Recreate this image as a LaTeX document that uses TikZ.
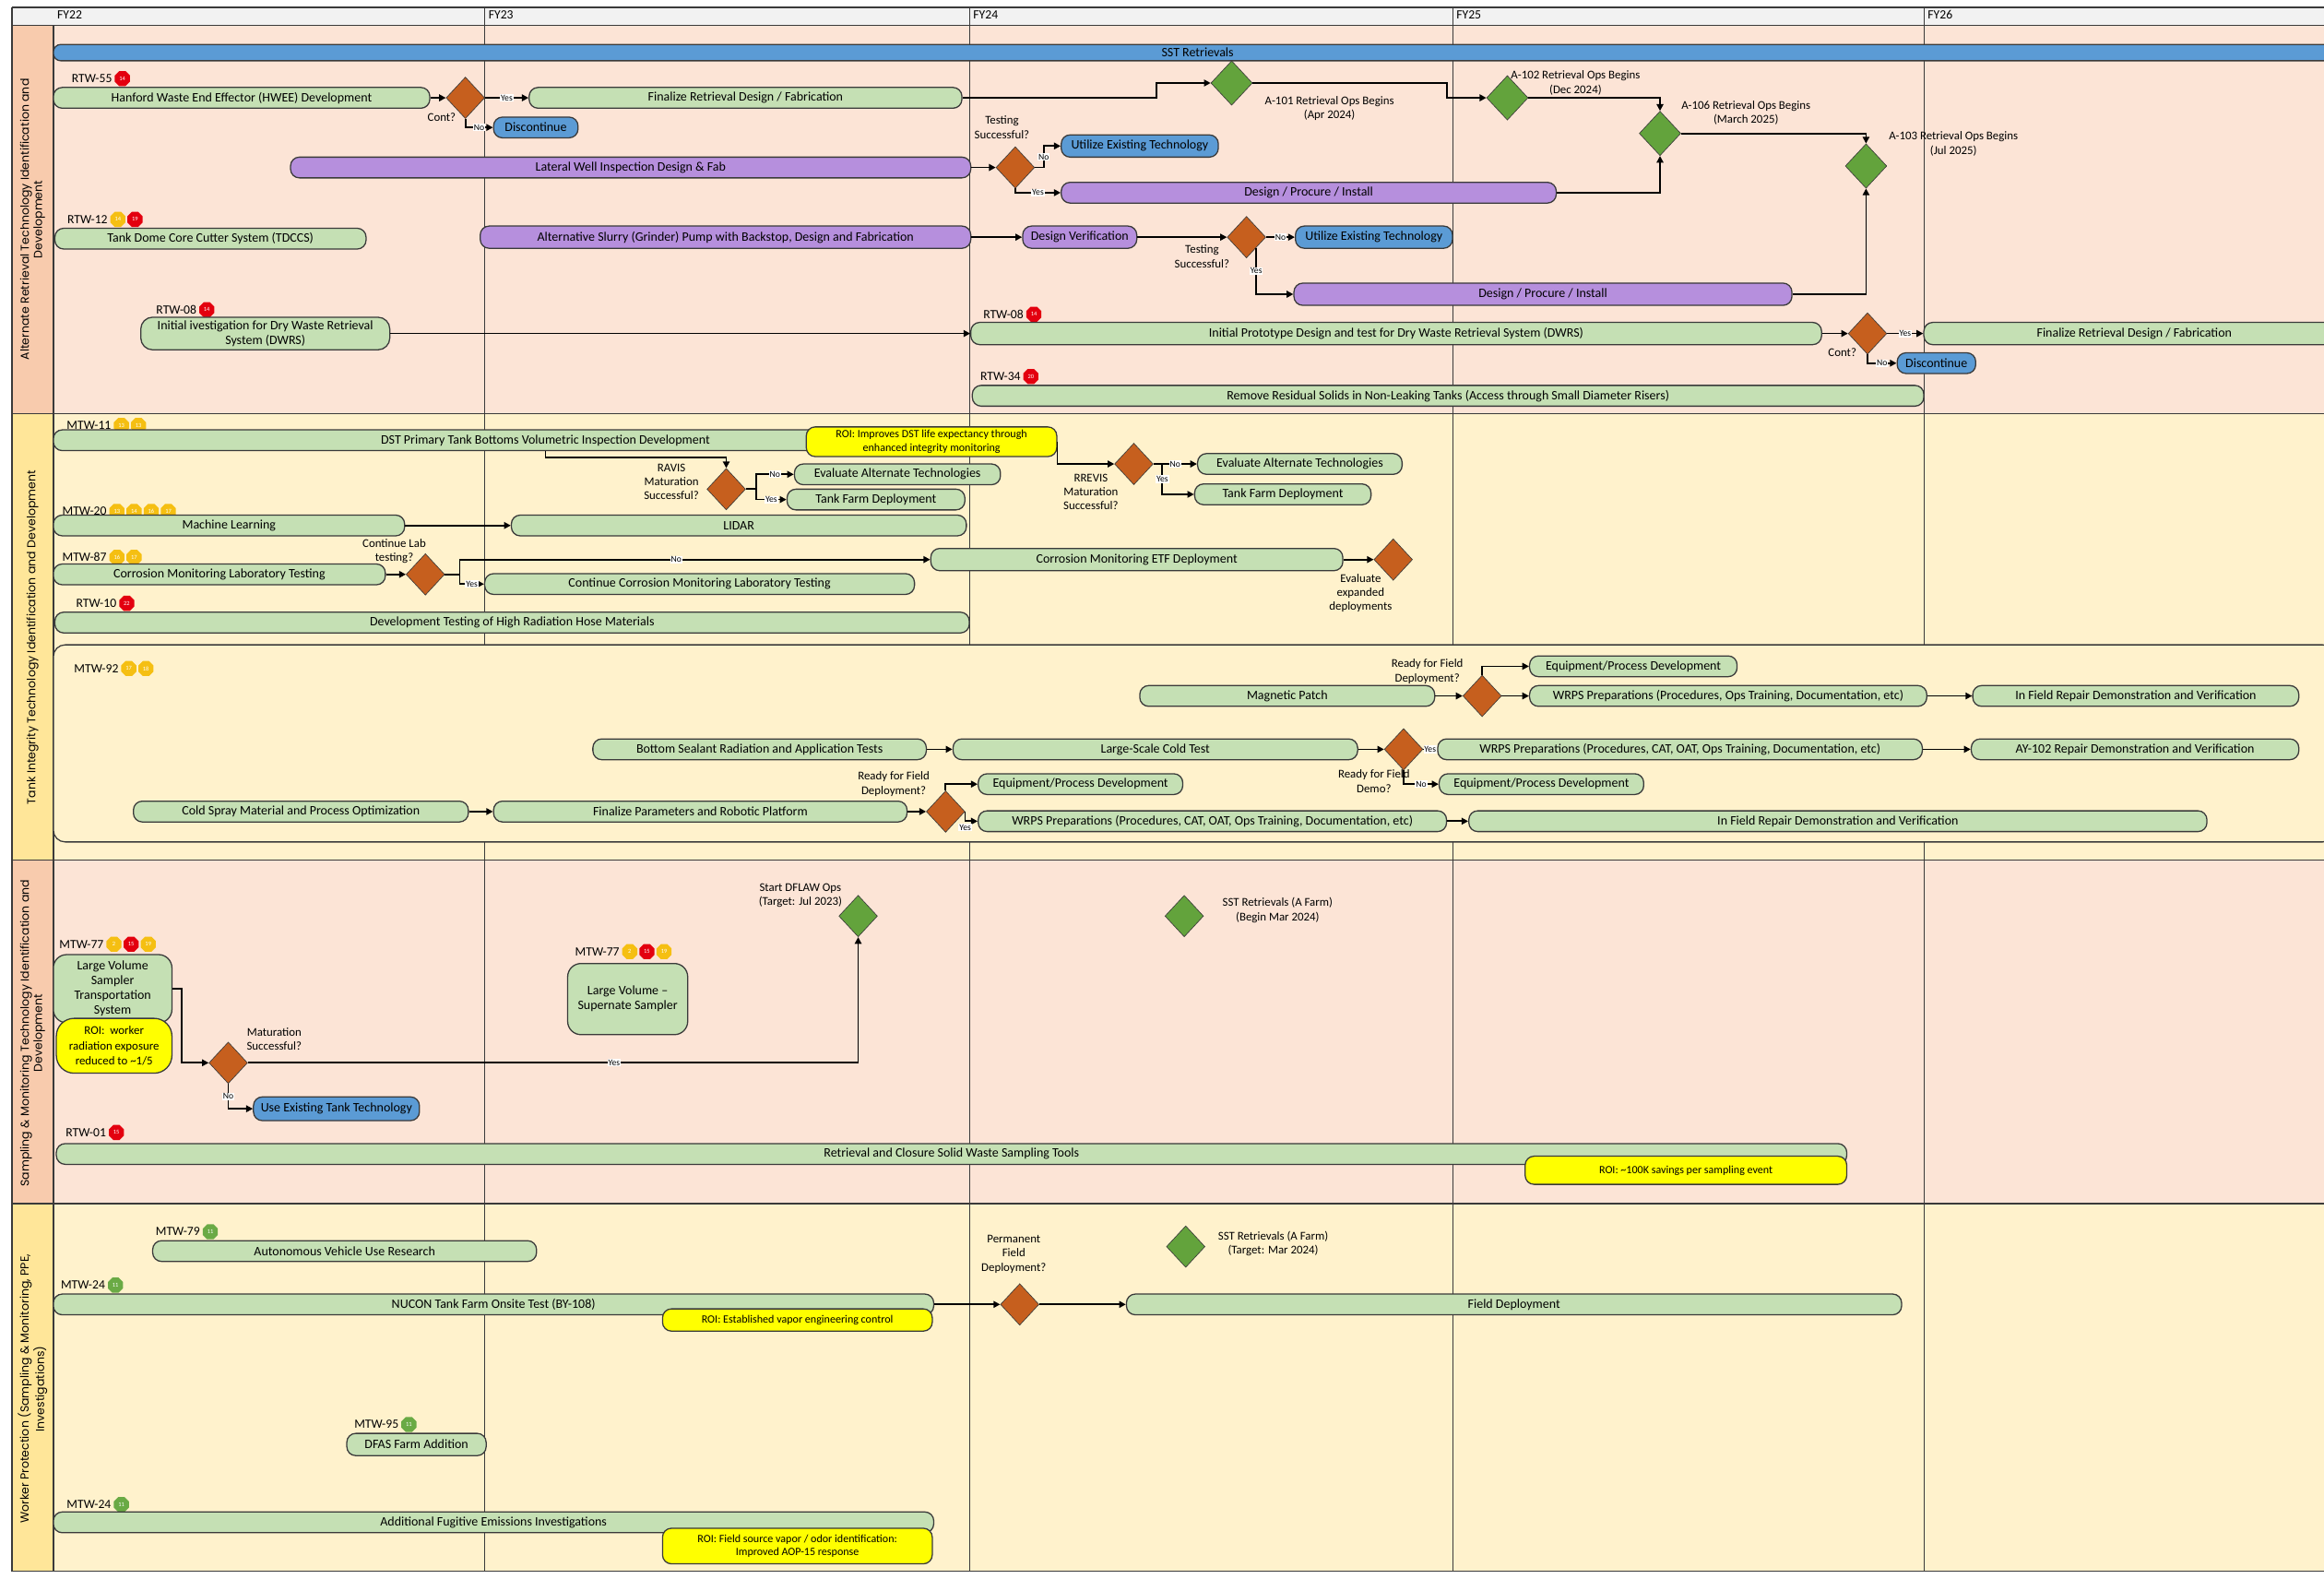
\documentclass[tikz,border=0pt]{standalone}
\usepackage{fontspec}
\setmainfont{Carlito}
\newfontfamily\lanefont{Poppins}
\usetikzlibrary{positioning,shapes.geometric,arrows.meta,calc}

\definecolor{lanepeach}{HTML}{FCE4D6}
\definecolor{laneyel}{HTML}{FFF2CC}
\definecolor{hdpeach}{HTML}{F8CBAD}
\definecolor{hdyel}{HTML}{FFE699}
\definecolor{hdgray}{HTML}{F2F2F2}
\definecolor{boxgreen}{HTML}{C5E0B4}
\definecolor{boxpurple}{HTML}{B68FDD}
\definecolor{boxblue}{HTML}{5B9BD5}
\definecolor{roiyel}{HTML}{FFFF00}
\definecolor{decorange}{HTML}{C65F1E}
\definecolor{decgreen}{HTML}{63A33C}
\definecolor{bred}{HTML}{E3000F}
\definecolor{byel}{HTML}{F5BF12}
\definecolor{bgreen}{HTML}{6AAA45}
\definecolor{lineclr}{HTML}{3A3A3A}

\tikzset{
  task/.style={draw=lineclr, line width=0.8pt, rounded corners=6pt, minimum height=14pt, inner sep=1pt, font=\fontsize{8.7}{10}\selectfont, align=center},
  gbox/.style={task, fill=boxgreen},
  pbox/.style={task, fill=boxpurple},
  bbox/.style={task, fill=boxblue},
  ybox/.style={task, fill=roiyel, font=\fontsize{7.5}{9}\selectfont},
  odec/.style={diamond, draw=lineclr, fill=decorange, minimum width=26pt, minimum height=28pt, inner sep=0pt},
  gdec/.style={diamond, draw=lineclr, fill=decgreen, minimum width=28pt, minimum height=30pt, inner sep=0pt},
  tag/.style={font=\fontsize{8.5}{9}\selectfont, inner sep=0.5pt},
  badge/.style={regular polygon, regular polygon sides=8, minimum size=11pt, inner sep=0pt, text=white, font=\fontsize{4}{4}\selectfont},
  rb/.style={badge, fill=bred}, yb/.style={badge, fill=byel}, gb/.style={badge, fill=bgreen},
  note/.style={font=\fontsize{8}{9.5}\selectfont, align=center, inner sep=0pt},
  conn/.style={draw=black, line width=1.1pt, -{Triangle[length=4.5pt,width=4.5pt]}},
  yn/.style={font=\fontsize{6}{6}\selectfont, fill=white, inner sep=0.6pt},
  lanelbl/.style={rotate=90, font=\lanefont\fontsize{7.8}{9}\selectfont, align=center},
  laneln/.style={draw=lineclr, line width=0.8pt},
  gridln/.style={draw=lineclr, line width=0.6pt},
}

\begin{document}
\begin{tikzpicture}[x=1pt,y=-1pt]
\useasboundingbox (0,0) rectangle (1568,1065);
\clip (0,0) rectangle (1568,1065);
\fill[white] (0,0) rectangle (1568,1065);

% swim lanes
\fill[hdgray] (8,5) rectangle (1568,17);
\fill[lanepeach] (36,17) rectangle (1568,279);
\fill[laneyel] (36,279) rectangle (1568,580);
\fill[lanepeach] (36,580) rectangle (1568,812);
\fill[laneyel] (36,812) rectangle (1568,1060);
\fill[hdpeach] (8,17) rectangle (36,279);
\fill[hdyel] (8,279) rectangle (36,580);
\fill[hdpeach] (8,580) rectangle (36,812);
\fill[hdyel] (8,812) rectangle (36,1060);
\foreach \x in {327,654,980,1298} \draw[gridln] (\x,5) -- (\x,1060);
\foreach \y in {5,17,279,580,812,1060} \draw[laneln] (8,\y) -- (1568,\y);
\draw[laneln] (8,5) -- (8,1060);
\draw[laneln] (36,17) -- (36,1060);
\draw[laneln, fill=laneyel, rounded corners=8pt] (36,435) rectangle (1575,568);

\node[tag, anchor=west] (fy22) at (38,10) {FY22};
\node[tag, anchor=west] (fy23) at (329,10) {FY23};
\node[tag, anchor=west] (fy24) at (656,10) {FY24};
\node[tag, anchor=west] (fy25) at (982,10) {FY25};
\node[tag, anchor=west] (fy26) at (1300,10) {FY26};

\node[lanelbl] (lane1) at (22,148) {Alternate Retrieval Technology Identification and\\Development};
\node[lanelbl] (lane2) at (22,430) {Tank Integrity Technology Identification and Development};
\node[lanelbl] (lane3) at (22,697) {Sampling \& Monitoring Technology Identification and\\Development};
\node[lanelbl] (lane4) at (22,937) {Worker Protection (Sampling \& Monitoring, PPE,\\Investigations)};

% ---- alternate retrieval
\node[bbox, minimum height=11pt, rounded corners=5pt, minimum width=1544pt] (sst) at (808,35.5) {SST Retrievals};
\node[tag] (trtw55) at (62,53) {RTW-55};
\node[rb, right=1pt of trtw55] (b55) {14};
\node[gbox, minimum width=254pt] (hwee) at (163,66) {Hanford Waste End Effector (HWEE) Development};
\node[odec] (c1) at (314,66) {};
\node[note] (cont1) at (298,79) {Cont?};
\node[gbox, minimum width=292pt] (fin1) at (503,66) {Finalize Retrieval Design / Fabrication};
\node[bbox, minimum width=57pt] (disc1) at (361.5,86) {Discontinue};
\node[gdec] (g101) at (831,56) {};
\node[gdec] (g102) at (1017,66) {};
\node[gdec] (g106) at (1120,90) {};
\node[gdec] (g103) at (1259,112) {};
\node[note] (l101) at (897,73) {A-101 Retrieval Ops Begins\\(Apr 2024)};
\node[note] (l102) at (1063,56) {A-102 Retrieval Ops Begins\\(Dec 2024)};
\node[note] (l106) at (1178,76) {A-106 Retrieval Ops Begins\\(March 2025)};
\node[note] (l103) at (1318,97) {A-103 Retrieval Ops Begins\\(Jul 2025)};
\node[pbox, minimum width=459pt] (lwi) at (425.5,113) {Lateral Well Inspection Design \& Fab};
\node[odec] (t1) at (685,113) {};
\node[note] (lt1) at (676,86) {Testing\\Successful?};
\node[bbox, minimum width=106pt, minimum height=15pt] (ut1) at (769,98.5) {Utilize Existing Technology};
\node[pbox, minimum width=334pt] (dpi1) at (883,130) {Design / Procure / Install};
\node[tag] (trtw12) at (59,148) {RTW-12};
\node[yb, right=1pt of trtw12] (b12a) {14};
\node[rb, right=1pt of b12a] (b12b) {19};
\node[gbox, minimum width=210pt] (tdccs) at (142,161) {Tank Dome Core Cutter System (TDCCS)};
\node[pbox, minimum width=331pt, minimum height=15pt] (slurry) at (489.5,160) {Alternative Slurry (Grinder) Pump with Backstop, Design and Fabrication};
\node[pbox, minimum width=77pt, minimum height=15pt] (dver) at (728.5,160) {Design Verification};
\node[odec] (t2) at (841,160) {};
\node[note] (lt2) at (811,173) {Testing\\Successful?};
\node[bbox, minimum width=106pt, minimum height=15pt] (ut2) at (927,160) {Utilize Existing Technology};
\node[pbox, minimum width=336pt, minimum height=15pt] (dpi2) at (1041,198.5) {Design / Procure / Install};
\node[tag] (trtw08a) at (119,209) {RTW-08};
\node[rb, right=1pt of trtw08a] (b08a) {14};
\node[gbox, minimum width=168pt, minimum height=22pt, rounded corners=8pt] (dwrs1) at (179,225) {Initial ivestigation for Dry Waste Retrieval\\System (DWRS)};
\node[tag] (trtw08b) at (677,212) {RTW-08};
\node[rb, right=1pt of trtw08b] (b08b) {14};
\node[gbox, minimum width=574pt, minimum height=15pt] (dwrs2) at (942,225) {Initial Prototype Design and test for Dry Waste Retrieval System (DWRS)};
\node[odec] (c2) at (1260,225) {};
\node[note] (cont2) at (1243,238) {Cont?};
\node[gbox, minimum width=284pt, minimum height=15pt] (fin2) at (1440,225) {Finalize Retrieval Design / Fabrication};
\node[bbox, minimum width=53pt] (disc2) at (1306.5,245) {Discontinue};
\node[tag] (trtw34) at (675,254) {RTW-34};
\node[rb, right=1pt of trtw34] (b34) {20};
\node[gbox, minimum width=642pt] (rrs) at (977,267) {Remove Residual Solids in Non-Leaking Tanks (Access through Small Diameter Risers)};

\draw[conn] (hwee) -- (c1);
\draw[conn] (c1) -- node[yn]{Yes} (fin1);
\draw[conn] (c1.south) |- node[yn,pos=0.75]{No} (disc1.west);
\draw[conn] (fin1.east) -- ++(131,0) |- (g101.west);
\draw[conn] (g101.east) -- ++(131,0) |- (g102.west);
\draw[conn] (g102.east) -| (g106.north);
\draw[conn] (g106.east) -| (g103.north);
\draw[conn] (lwi) -- (t1);
\draw[conn] (t1.east) -- ++(6,0) |- node[yn,pos=0.25]{No} (ut1.west);
\draw[conn] (t1.south) |- node[yn,pos=0.75]{Yes} (dpi1.west);
\draw[conn] (dpi1.east) -| (g106.south);
\draw[conn] (slurry) -- (dver);
\draw[conn] (dver) -- (t2);
\draw[conn] (t2) -- node[yn]{No} (ut2);
\draw[conn] (t2.south east) |- node[yn,pos=0.25]{Yes} (dpi2.west);
\draw[conn] (dpi2.east) -| (g103.south);
\draw[conn] (dwrs1) -- (dwrs2);
\draw[conn] (dwrs2) -- (c2);
\draw[conn] (c2) -- node[yn]{Yes} (fin2);
\draw[conn] (c2.south) |- node[yn,pos=0.75]{No} (disc2.west);

% ---- tank integrity
\node[tag] (tmtw11) at (60,287) {MTW-11};
\node[yb, right=1pt of tmtw11] (b11a) {13};
\node[yb, right=1pt of b11a] (b11b) {13};
\node[gbox, minimum width=664pt] (dst) at (368,297) {DST Primary Tank Bottoms Volumetric Inspection Development};
\node[ybox, minimum width=169pt, minimum height=20pt] (roi1) at (628.5,298) {ROI: Improves DST life expectancy through\\enhanced integrity monitoring};
\node[odec] (ravis) at (490,330) {};
\node[note] (lravis) at (453,325) {RAVIS\\Maturation\\Successful?};
\node[gbox, minimum width=139pt] (eat1) at (605.5,320) {Evaluate Alternate Technologies};
\node[gbox, minimum width=120pt] (tfd1) at (591,337) {Tank Farm Deployment};
\node[odec] (rrevis) at (765,313) {};
\node[note] (lrrevis) at (736,332) {RREVIS\\Maturation\\Successful?};
\node[gbox, minimum width=138pt] (eat2) at (877,313) {Evaluate Alternate Technologies};
\node[gbox, minimum width=119pt] (tfd2) at (865.5,333.5) {Tank Farm Deployment};
\node[tag] (tmtw20) at (57,345) {MTW-20};
\node[yb, right=1pt of tmtw20] (b20a) {13};
\node[yb, right=1pt of b20a] (b20b) {14};
\node[yb, right=1pt of b20b] (b20c) {16};
\node[yb, right=1pt of b20c] (b20d) {17};
\node[gbox, minimum width=237pt] (ml) at (154.5,354.5) {Machine Learning};
\node[gbox, minimum width=307pt] (lidar) at (498.5,354.5) {LIDAR};
\node[tag] (tmtw87) at (57,376) {MTW-87};
\node[yb, right=1pt of tmtw87] (b87a) {16};
\node[yb, right=1pt of b87a] (b87b) {17};
\node[gbox, minimum width=224pt] (cmlt) at (148,387.5) {Corrosion Monitoring Laboratory Testing};
\node[odec] (cl) at (287,387.5) {};
\node[note] (lcl) at (266,372) {Continue Lab\\testing?};
\node[gbox, minimum width=278pt, minimum height=15pt] (etf) at (767,377.5) {Corrosion Monitoring ETF Deployment};
\node[gbox, minimum width=290pt] (ccml) at (472,394) {Continue Corrosion Monitoring Laboratory Testing};
\node[odec] (eval) at (940,377.5) {};
\node[note] (leval) at (918,400) {Evaluate\\expanded\\deployments};
\node[tag] (trtw10) at (65,407) {RTW-10};
\node[rb, right=1pt of trtw10] (b10) {22};
\node[gbox, minimum width=617pt] (hose) at (345.5,420) {Development Testing of High Radiation Hose Materials};

\draw[conn] (dst.south) -- ++(0,4) -| (ravis.north);
\draw[conn] (ravis.east) -- ++(7,0) |- node[yn,pos=0.75]{No} (eat1.west);
\draw[conn] (ravis.east) -- ++(7,0) |- node[yn,pos=0.75]{Yes} (tfd1.west);
\draw[conn] (roi1.east) |- (rrevis.west);
\draw[conn] (rrevis) -- node[yn]{No} (eat2);
\draw[conn] (rrevis.east) -- ++(6,0) |- node[yn,pos=0.25]{Yes} (tfd2.west);
\draw[conn] (ml) -- (lidar);
\draw[conn] (cmlt) -- (cl);
\draw[conn] (cl.east) -- ++(10,0) |- node[yn,pos=0.73]{No} (etf.west);
\draw[conn] (cl.east) -- ++(10,0) |- node[yn,pos=0.75]{Yes} (ccml.west);
\draw[conn] (etf) -- (eval);

% repair technologies
\node[tag] (tmtw92) at (65,451) {MTW-92};
\node[yb, right=1pt of tmtw92] (b92a) {17};
\node[yb, right=1pt of b92a] (b92b) {18};
\node[gbox, minimum width=199pt] (mp) at (868.5,469.5) {Magnetic Patch};
\node[odec] (rf1) at (1000,469.5) {};
\node[note] (lrf1) at (963,453) {Ready for Field\\Deployment?};
\node[gbox, minimum width=140pt] (epd1) at (1102,449.5) {Equipment/Process Development};
\node[gbox, minimum width=268pt] (wrps1) at (1166,469.5) {WRPS Preparations (Procedures, Ops Training, Documentation, etc)};
\node[gbox, minimum width=220pt] (ifr1) at (1441,469.5) {In Field Repair Demonstration and Verification};
\node[gbox, minimum width=225pt] (bsr) at (512.5,505.5) {Bottom Sealant Radiation and Application Tests};
\node[gbox, minimum width=273pt] (lsct) at (779.5,505.5) {Large-Scale Cold Test};
\node[odec] (rf2) at (947,505.5) {};
\node[note] (lrf2) at (927,527) {Ready for Field\\Demo?};
\node[gbox, minimum width=327pt] (wrps2) at (1133.5,505.5) {WRPS Preparations (Procedures, CAT, OAT, Ops Training, Documentation, etc)};
\node[gbox, minimum width=138pt] (epd2) at (1040,529) {Equipment/Process Development};
\node[gbox, minimum width=221pt] (ay) at (1440.5,505.5) {AY-102 Repair Demonstration and Verification};
\node[gbox, minimum width=226pt] (cs) at (203,547.5) {Cold Spray Material and Process Optimization};
\node[gbox, minimum width=279pt] (fp) at (472.5,547.5) {Finalize Parameters and Robotic Platform};
\node[odec] (rf3) at (638,547.5) {};
\node[note] (lrf3) at (603,529) {Ready for Field\\Deployment?};
\node[gbox, minimum width=138pt] (epd3) at (729,529) {Equipment/Process Development};
\node[gbox, minimum width=316pt] (wrps3) at (818,554) {WRPS Preparations (Procedures, CAT, OAT, Ops Training, Documentation, etc)};
\node[gbox, minimum width=498pt] (ifr3) at (1240,554) {In Field Repair Demonstration and Verification};

\draw[conn] (mp) -- (rf1);
\draw[conn] (rf1.north) |- (epd1.west);
\draw[conn] (rf1) -- (wrps1);
\draw[conn] (wrps1) -- (ifr1);
\draw[conn] (bsr) -- (lsct);
\draw[conn] (lsct) -- (rf2);
\draw[conn] (rf2) -- node[yn]{Yes} (wrps2);
\draw[conn] (rf2.south) |- node[yn,pos=0.75]{No} (epd2.west);
\draw[conn] (wrps2) -- (ay);
\draw[conn] (cs) -- (fp);
\draw[conn] (fp) -- (rf3);
\draw[conn] (rf3.north) |- (epd3.west);
\draw[conn] (rf3.east) |- node[yn,pos=0.5,below=1pt]{Yes} (wrps3.west);
\draw[conn] (wrps3) -- (ifr3);

% ---- sampling & monitoring
\node[gdec, minimum width=26pt, minimum height=28pt] (gdf) at (579,618) {};
\node[note] (lgdf) at (540,604) {Start DFLAW Ops\\(Target: Jul 2023)};
\node[gdec, minimum width=26pt, minimum height=28pt] (gsst1) at (799,618) {};
\node[note] (lgsst1) at (862,614) {SST Retrievals (A Farm)\\(Begin Mar 2024)};
\node[tag] (tmtw77a) at (55,637) {MTW-77};
\node[yb, right=1pt of tmtw77a] (b77a) {2};
\node[rb, right=1pt of b77a] (b77b) {15};
\node[yb, right=1pt of b77b] (b77c) {19};
\node[gbox, minimum width=80pt, minimum height=46pt, rounded corners=9pt] (lvsts) at (76,667) {Large Volume\\Sampler\\Transportation\\System};
\node[ybox, minimum width=78pt, minimum height=37pt, rounded corners=12pt, font=\fontsize{8}{10}\selectfont] (roi2) at (77,705.5) {ROI:\ \ worker\\radiation exposure\\reduced to \textasciitilde1/5};
\node[odec] (ms) at (154,717) {};
\node[note] (lms) at (185,701) {Maturation\\Successful?};
\node[bbox, minimum width=112pt, minimum height=16pt] (uet) at (227,748) {Use Existing Tank Technology};
\node[tag] (tmtw77b) at (403,642) {MTW-77};
\node[yb, right=1pt of tmtw77b] (b77d) {2};
\node[rb, right=1pt of b77d] (b77e) {15};
\node[yb, right=1pt of b77e] (b77f) {19};
\node[gbox, minimum width=81pt, minimum height=48pt, rounded corners=9pt] (lvss) at (423.5,674) {Large Volume --\\Supernate Sampler};
\node[tag] (trtw01) at (58,764) {RTW-01};
\node[rb, right=1pt of trtw01] (b01) {15};
\node[gbox, minimum width=1208pt] (rcs) at (642,778.5) {Retrieval and Closure Solid Waste Sampling Tools};
\node[ybox, minimum width=217pt, minimum height=19pt] (roi3) at (1137.5,789.5) {ROI: \textasciitilde100K savings per sampling event};

\draw[conn] (lvsts.east) -- ++(6,0) |- (ms.west);
\draw[conn] (ms.east) -| node[yn,pos=0.3]{Yes} (gdf.south);
\draw[conn] (ms.south) |- node[yn,pos=0.25]{No} (uet.west);

% ---- worker protection
\node[tag] (tmtw79) at (120,831) {MTW-79};
\node[gb, right=1pt of tmtw79] (b79) {11};
\node[gbox, minimum width=259pt] (avr) at (232.5,844) {Autonomous Vehicle Use Research};
\node[tag] (tmtw24a) at (56,867) {MTW-24};
\node[gb, right=1pt of tmtw24a] (b24a) {11};
\node[gbox, minimum width=594pt] (nucon) at (333,880) {NUCON Tank Farm Onsite Test (BY-108)};
\node[ybox, minimum width=182pt, minimum height=15pt] (roi4) at (538,890.5) {ROI: Established vapor engineering control};
\node[odec] (pfd) at (688,880) {};
\node[note] (lpfd) at (684,846) {Permanent\\Field\\Deployment?};
\node[gbox, minimum width=523pt] (fd) at (1021.5,880) {Field Deployment};
\node[gdec, minimum width=26pt, minimum height=28pt] (gsst2) at (800,841) {};
\node[note] (lgsst2) at (859,839) {SST Retrievals (A Farm)\\(Target: Mar 2024)};
\node[tag] (tmtw95) at (254,961) {MTW-95};
\node[gb, right=1pt of tmtw95] (b95) {11};
\node[gbox, minimum width=94pt, minimum height=15pt] (dfas) at (281,974.5) {DFAS Farm Addition};
\node[tag] (tmtw24b) at (60,1015) {MTW-24};
\node[gb, right=1pt of tmtw24b] (b24b) {11};
\node[gbox, minimum width=594pt] (afe) at (333,1027) {Additional Fugitive Emissions Investigations};
\node[ybox, minimum width=182pt, minimum height=24pt] (roi5) at (538,1043) {ROI: Field source vapor / odor identification:\\Improved AOP-15 response};

\draw[conn] (nucon.east) -- (pfd.west);
\draw[conn] (pfd) -- (fd);
\end{tikzpicture}
\end{document}
